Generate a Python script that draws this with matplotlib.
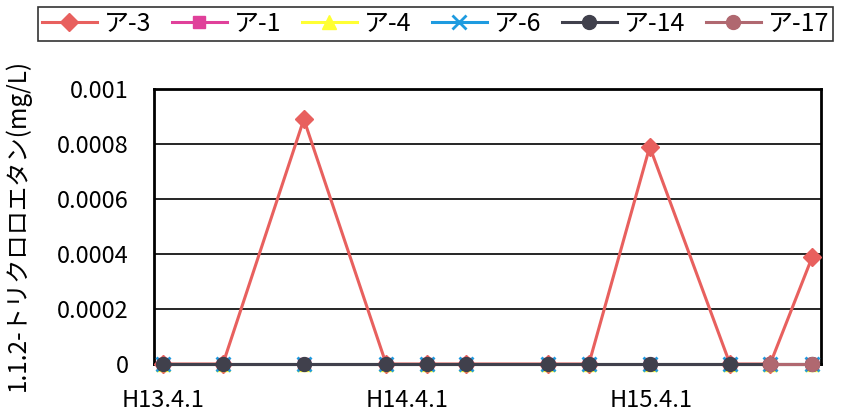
import numpy as np
import pandas as pd
import matplotlib
matplotlib.use('Agg')
import matplotlib.pyplot as plt

plt.rcParams['font.family'] = ['Noto Sans CJK JP', 'DejaVu Sans']

# sampling dates
dates = ['2001-04-01', '2001-06-30', '2001-10-29', '2002-03-01', '2002-05-01',
         '2002-06-28', '2002-10-29', '2002-12-29', '2003-03-30', '2003-07-28',
         '2003-09-26', '2003-11-28']

a3 = [0, 0, 0.00089, 0, 0, 0, 0, 0, 0.00079, 0, 0, 0.00039]
a1 = [0, 0, 0, 0, 0, 0, 0, 0, 0, 0, 0, 0]
a4 = [0, 0, 0, 0, 0, 0, 0, 0, 0, 0, 0, 0]
a6 = [0, 0, 0, 0, 0, 0, 0, 0, 0, 0, 0, 0]
a14 = [0, 0, 0, 0, 0, 0, 0, 0, 0, 0, 0, 0]
a17 = [np.nan] * 10 + [0, 0]

tick_dates = ['2001-04-01', '2002-04-01', '2003-04-01']
tick_labels = ['H13.4.1', 'H14.4.1', 'H15.4.1']

x = pd.to_datetime(dates)

fig = plt.figure(figsize=(8.52, 4.2), dpi=100)
ax = fig.add_axes([154/852, 1-364/420, 667/852, 275/420])

series = [
    ('ア-3', a3, '#E8605E', 'D', 9),
    ('ア-1', a1, '#E0409A', 's', 9),
    ('ア-4', a4, '#FFFF33', '^', 10),
    ('ア-6', a6, '#1E9BE0', 'x', 10),
    ('ア-14', a14, '#40404C', 'o', 10),
    ('ア-17', a17, '#B06870', 'o', 10),
]
for name, vals, col, mk, ms in series:
    ax.plot(x, vals, color=col, marker=mk, markersize=ms, lw=2.2,
            markeredgewidth=2 if mk == 'x' else 1, markeredgecolor=col,
            label=name, clip_on=False, zorder=3)

ax.set_ylim(0, 0.001)
ax.set_yticks([0, 0.0002, 0.0004, 0.0006, 0.0008, 0.001])
ax.set_yticklabels(['0', '0.0002', '0.0004', '0.0006', '0.0008', '0.001'])
ax.set_xlim(x[0] - pd.Timedelta(days=13), pd.Timestamp('2003-12-11'))
ax.set_xticks(pd.to_datetime(tick_dates))
ax.set_xticklabels(tick_labels)
ax.tick_params(axis='y', length=0, pad=18, labelsize=17)
ax.tick_params(axis='x', length=0, pad=18, labelsize=17)
ax.grid(axis='y', color='black', lw=1.2)
ax.set_axisbelow(True)
for s in ax.spines.values():
    s.set_linewidth(2)
    s.set_color('black')

fig.text(18/852, 1-225/420, '1.1.2-トリクロロエタン(mg/L)', rotation=90,
         ha='center', va='center', fontsize=17.5)

leg = fig.legend(loc='upper left', bbox_to_anchor=(38/852, 1-7/420), ncol=6,
                 fontsize=18, handlelength=2.2, handletextpad=0.3,
                 columnspacing=0.8, borderpad=0.15, fancybox=False,
                 framealpha=1, edgecolor='#333333', borderaxespad=0)
leg.get_frame().set_linewidth(1.2)

fig.savefig('out.png', dpi=100)
